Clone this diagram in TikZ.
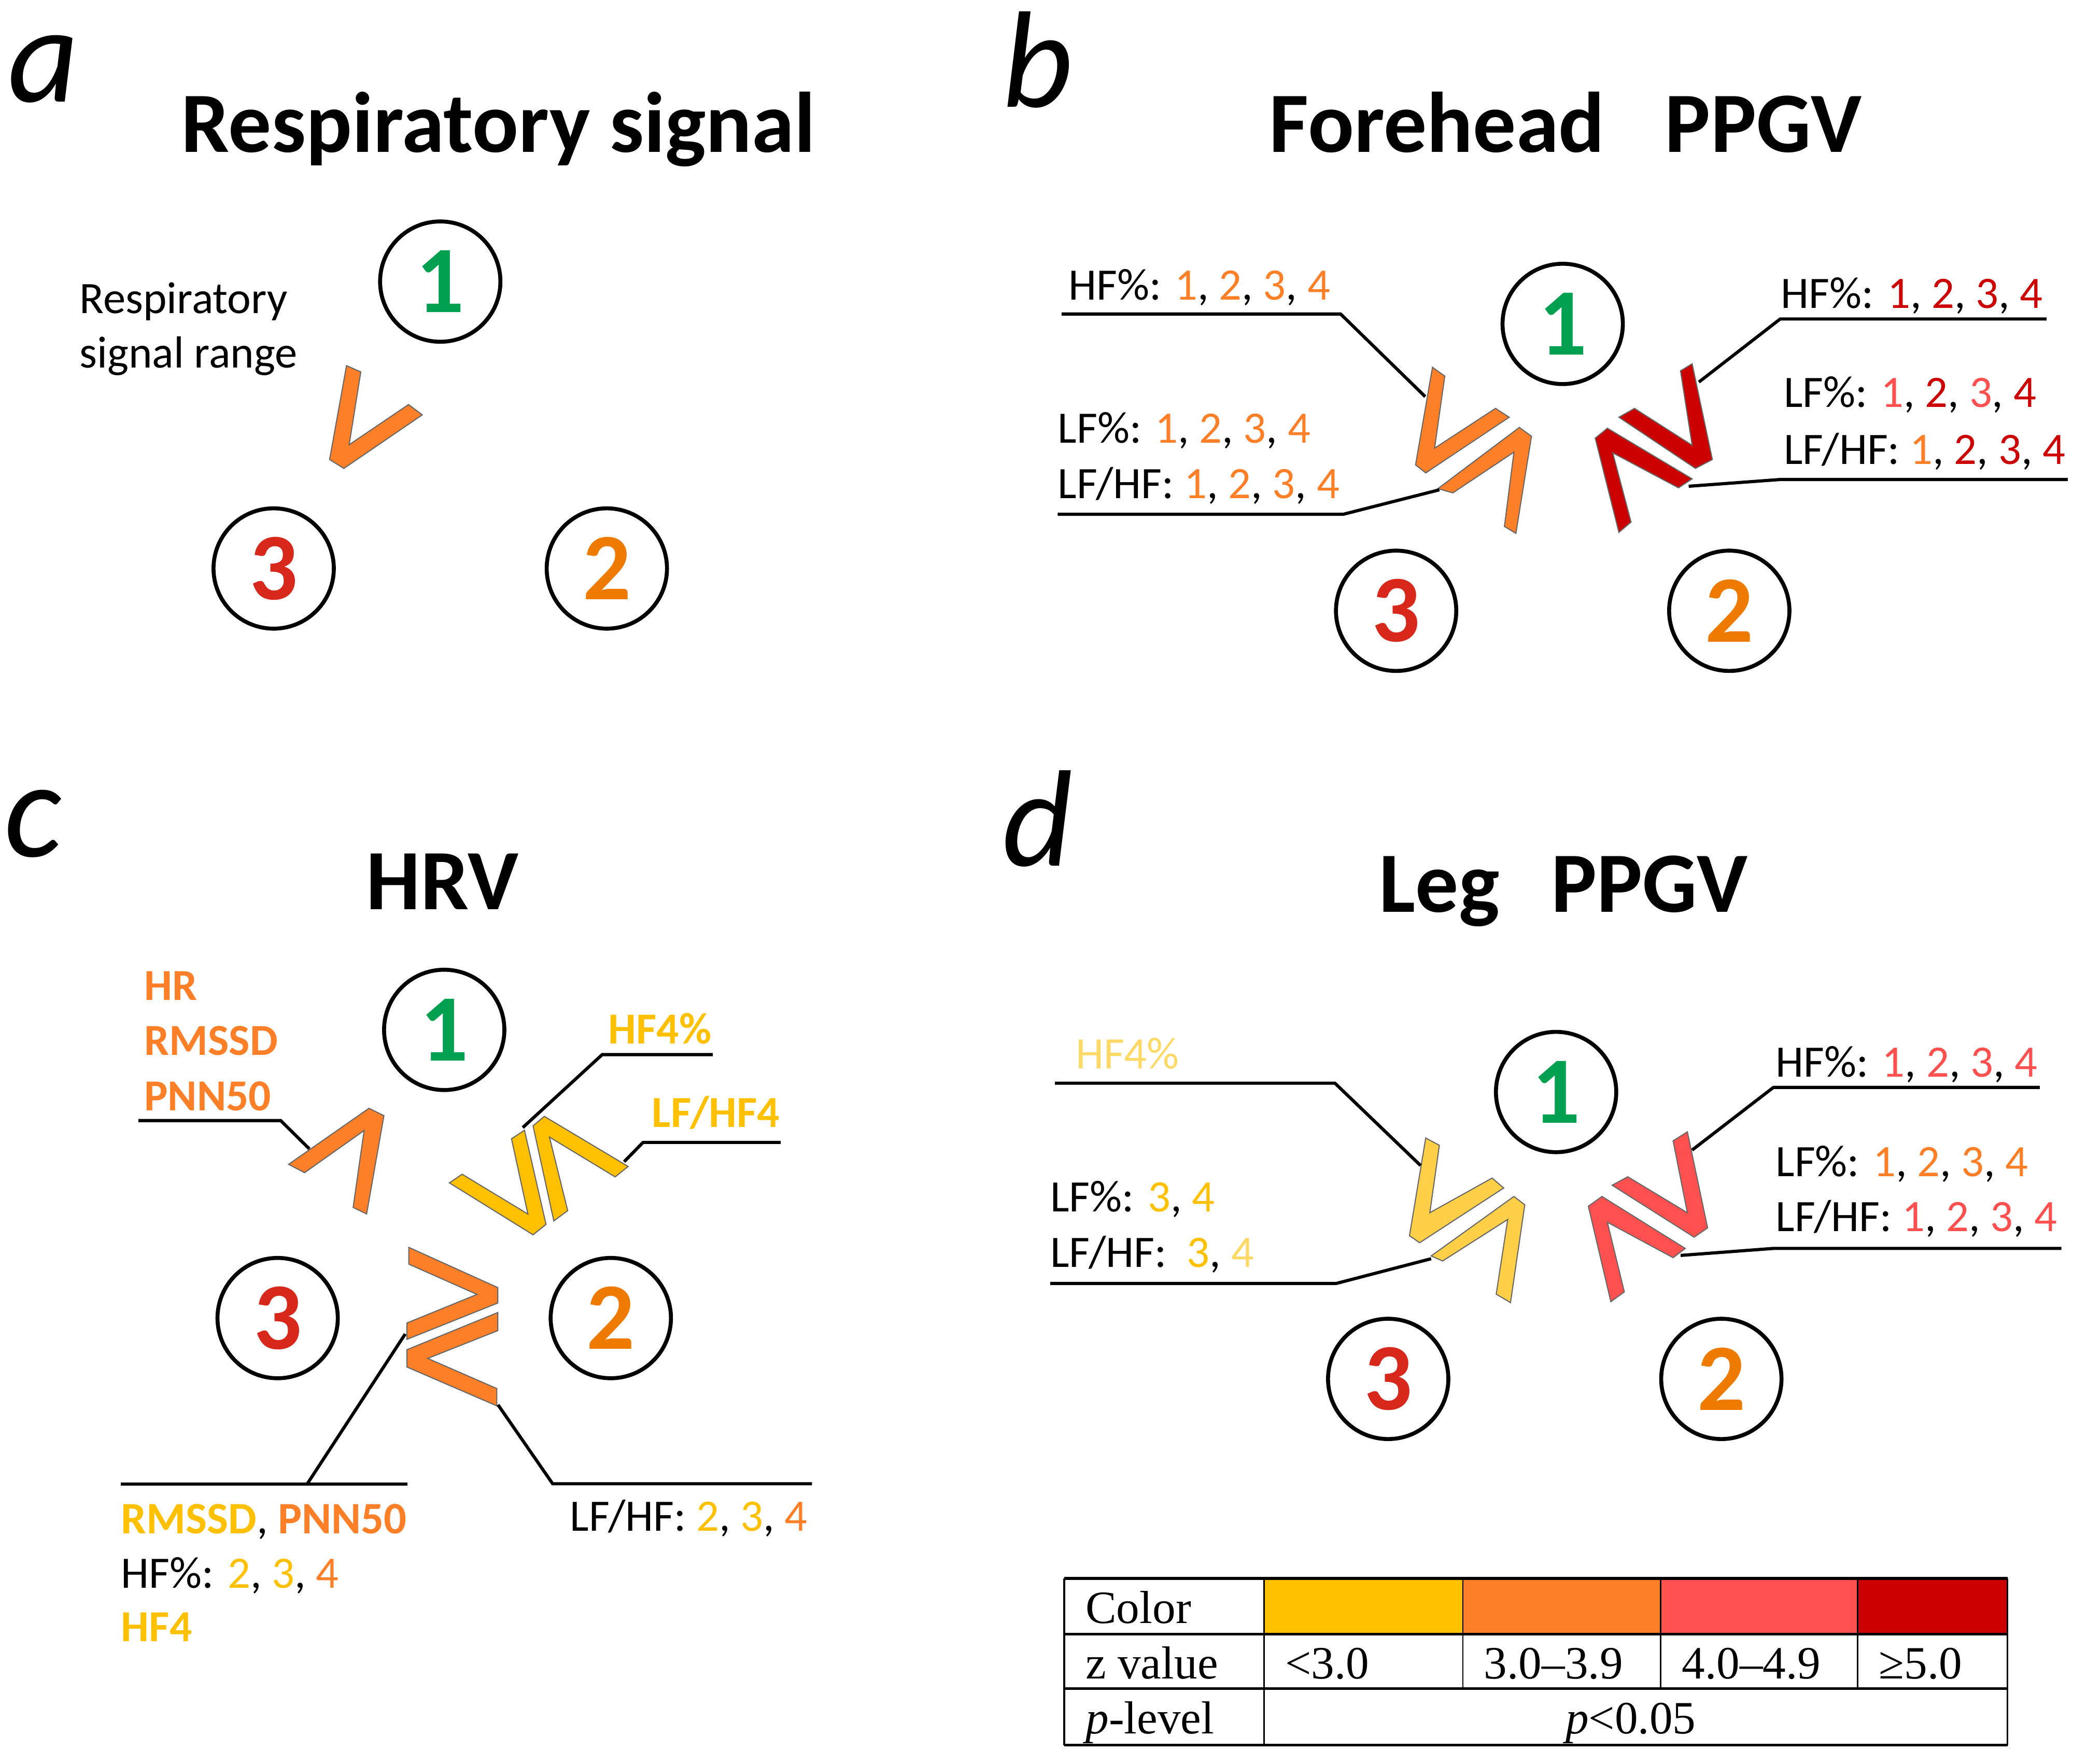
\documentclass[tikz,border=0pt]{standalone}
\usepackage{fontspec}
\setmainfont{Carlito}
\newfontfamily\tnr{Liberation Serif}
\definecolor{cG}{HTML}{00A050}
\definecolor{cRt}{HTML}{D8281C}
\definecolor{cOt}{HTML}{EE7A00}
\definecolor{cY}{HTML}{FFC000}
\definecolor{cO}{HTML}{FD7F28}
\definecolor{cLR}{HTML}{FF5050}
\definecolor{cDR}{HTML}{CC0000}
\definecolor{cLY}{HTML}{FFD047}
\definecolor{cLYt}{HTML}{FFD966}
\newcommand\tY[1]{\textcolor{cY}{#1}}
\newcommand\tO[1]{\textcolor{cO}{#1}}
\newcommand\tLR[1]{\textcolor{cLR}{#1}}
\newcommand\tDR[1]{\textcolor{cDR}{#1}}
\newcommand\tLY[1]{\textcolor{cLYt}{#1}}
\begin{document}
\begin{tikzpicture}[x=1pt,y=-1pt,
  lab/.style={anchor=base west, inner sep=0pt, font=\fontsize{34}{41}\selectfont},
  blab/.style={anchor=base west, inner sep=0pt, font=\bfseries\fontsize{33.5}{41}\selectfont},
  ttl/.style={anchor=base west, inner sep=0pt, font=\bfseries\fontsize{65}{70}\selectfont},
  pletter/.style={anchor=base west, inner sep=0pt, font=\itshape\fontsize{104}{110}\selectfont},
  circ/.style={circle, draw, line width=3pt, minimum size=91pt, inner sep=0pt, font=\bfseries\fontsize{72}{72}\selectfont},
  chev/.style={draw=black!60, line width=0.8pt, line join=miter},
  lead/.style={line width=2.4pt},
  tab/.style={anchor=base west, inner sep=0pt, font=\tnr\fontsize{35}{40}\selectfont},
]
\useasboundingbox (0,0) rectangle (1568,1334);

% ---------------- panel a ----------------
\node[pletter] (pa) at (6,77) {a};
\node[ttl] (ta) at (137,115) {Respiratory signal};
\node[circ] (a1) at (333,213) {\textcolor{cG}{1}};
\node[circ] (a3) at (207,430) {\textcolor{cRt}{3}};
\node[circ] (a2) at (459,430) {\textcolor{cOt}{2}};
\node[lab] (ra1) at (60,237) {Respiratory};
\node[lab] (ra2) at (60,278) {signal range};
\draw[chev, fill=cO] (262.1,276.6) -- (249.3,347.6) -- (260.1,354.3) -- (319.4,313.8)
  -- (309.0,306.0) -- (264.1,336.4) -- (272.9,281.3) -- cycle;

% ---------------- panel b ----------------
\node[pletter] (pb) at (758,81) {b};
\node[ttl] (tb) at (960,115) {Forehead\hspace{0.7em}PPGV};
\node[circ] (b1) at (1182,245) {\textcolor{cG}{1}};
\node[circ] (b3) at (1056,462) {\textcolor{cRt}{3}};
\node[circ] (b2) at (1308,462) {\textcolor{cOt}{2}};
\draw[chev, fill=cO] (1083.5,277.8) -- (1070.7,351.6) -- (1078.4,357.7) -- (1141.5,315.6)
  -- (1131.2,308.9) -- (1085.1,339.0) -- (1092.8,284.5) -- cycle;
\draw[chev, fill=cO] (1087.6,369.6) -- (1149.2,323.3) -- (1158.4,330.0) -- (1146.6,403.4)
  -- (1137.9,398.2) -- (1145.1,342.0) -- (1098.9,372.8) -- cycle;
\draw[chev, fill=cDR] (1279.9,275.1) -- (1295.2,347.6) -- (1282.4,354.3) -- (1224.5,315.6)
  -- (1236.3,308.9) -- (1279.9,336.8) -- (1271.1,280.5) -- cycle;
\draw[chev, fill=cDR] (1279.9,362.2) -- (1215.8,323.9) -- (1206.6,331.4) -- (1224.5,402.7)
  -- (1233.7,394.9) -- (1219.9,342.6) -- (1269.6,369.0) -- cycle;
\node[lab] (bl1) at (808,227) {HF\%: \tO{1}, \tO{2}, \tO{3}, \tO{4}};
\node[lab] (bl2) at (800,335) {LF\%: \tO{1}, \tO{2}, \tO{3}, \tO{4}};
\node[lab] (bl3) at (800,377) {LF/HF: \tO{1}, \tO{2}, \tO{3}, \tO{4}};
\node[lab] (br1) at (1347,233) {HF\%: \tDR{1}, \tDR{2}, \tDR{3}, \tDR{4}};
\node[lab] (br2) at (1349,308) {LF\%: \tLR{1}, \tDR{2}, \tLR{3}, \tDR{4}};
\node[lab] (br3) at (1349,351) {LF/HF: \tO{1}, \tDR{2}, \tDR{3}, \tDR{4}};
\coordinate (bA0) at (803,237.5); \coordinate (bA1) at (1014,237.5); \coordinate (bA2) at (1078,300);
\coordinate (bB0) at (800,389); \coordinate (bB1) at (1016,389); \coordinate (bB2) at (1088.7,370.5);
\coordinate (bC0) at (1548,241.3); \coordinate (bC1) at (1346.5,241.3); \coordinate (bC2) at (1285,289);
\coordinate (bD0) at (1564,362.7); \coordinate (bD1) at (1346.5,362.7); \coordinate (bD2) at (1277.3,367.8);
\draw[lead] (bA0) -- (bA1) -- (bA2);
\draw[lead] (bB0) -- (bB1) -- (bB2);
\draw[lead] (bC0) -- (bC1) -- (bC2);
\draw[lead] (bD0) -- (bD1) -- (bD2);

% ---------------- panel c ----------------
\node[pletter] (pc) at (3,648) {c};
\node[ttl] (tc) at (277,688) {HRV};
\node[circ] (c1) at (336,779) {\textcolor{cG}{1}};
\node[circ] (c3) at (210,997) {\textcolor{cRt}{3}};
\node[circ] (c2) at (462,997) {\textcolor{cOt}{2}};
\draw[chev, fill=cO] (218.3,880.7) -- (279.1,838.3) -- (290.4,843.9) -- (277.3,918.2)
  -- (267.1,913.3) -- (275.4,855.1) -- (230.4,887.0) -- cycle;
\draw[chev, fill=cY] (339.9,894.7) -- (403.2,934.0) -- (413.0,926.1) -- (396.7,854.9)
  -- (386.9,861.4) -- (399.3,918.3) -- (349.6,888.2) -- cycle;
\draw[chev, fill=cY] (418.9,923.5) -- (403.2,851.6) -- (411.7,844.4) -- (475.1,882.3)
  -- (465.3,890.2) -- (415.6,860.1) -- (429.4,915.7) -- cycle;
\draw[chev, fill=cO] (309.2,943.5) -- (376.5,973.9) -- (376.5,985.6) -- (307.8,1013.1)
  -- (307.8,1000.7) -- (360.8,979.1) -- (309.2,956.2) -- cycle;
\draw[chev, fill=cO] (376.5,992.8) -- (307.8,1020.9) -- (307.8,1034.0) -- (375.8,1063.4)
  -- (375.8,1050.3) -- (323.5,1027.5) -- (376.5,1006.5) -- cycle;
\node[blab, text=cO] (cl1) at (109,756.5) {HR};
\node[blab, text=cO] (cl2) at (109,798) {RMSSD};
\node[blab, text=cO] (cl3) at (109,840) {PNN50};
\node[blab, text=cY] (cr1) at (460,789.5) {HF4\%};
\node[blab, text=cY] (cr2) at (493,852.5) {LF/HF4};
\node[lab] (cb1) at (91.5,1160) {\textbf{\tY{RMSSD}}, \textbf{\tO{PNN50}}};
\node[lab] (cb2) at (91.5,1201) {HF\%: \tY{2}, \tY{3}, \tO{4}};
\node[blab, text=cY] (cb3) at (91.5,1241.6) {HF4};
\node[lab] (cb4) at (431,1158) {LF/HF: \tY{2}, \tY{3}, \tO{4}};
\coordinate (cA0) at (104.7,847.6); \coordinate (cA1) at (212.3,847.6); \coordinate (cA2) at (234,869);
\coordinate (cB0) at (539.2,797.7); \coordinate (cB1) at (455.5,797.7); \coordinate (cB2) at (395.4,852.9);
\coordinate (cC0) at (590.5,864.1); \coordinate (cC1) at (486.4,864.1); \coordinate (cC2) at (472.1,878.7);
\coordinate (cD0) at (91.5,1122.7); \coordinate (cD1) at (308,1122.7); \coordinate (cD2) at (232.2,1122.7); \coordinate (cD3) at (306.5,1009);
\coordinate (cE0) at (376.7,1062.6); \coordinate (cE1) at (418,1122.3); \coordinate (cE2) at (614.2,1122.3);
\draw[lead] (cA0) -- (cA1) -- (cA2);
\draw[lead] (cB0) -- (cB1) -- (cB2);
\draw[lead] (cC0) -- (cC1) -- (cC2);
\draw[lead] (cD0) -- (cD1);
\draw[lead] (cD2) -- (cD3);
\draw[lead] (cE0) -- (cE1) -- (cE2);

% ---------------- panel d ----------------
\node[pletter] (pd) at (758,655) {d};
\node[ttl] (td) at (1043,690) {Leg\hspace{0.6em}PPGV};
\node[circ] (d1) at (1177,826) {\textcolor{cG}{1}};
\node[circ] (d3) at (1050,1043) {\textcolor{cRt}{3}};
\node[circ] (d2) at (1302,1043) {\textcolor{cOt}{2}};
\draw[chev, fill=cLY] (1078.4,860.8) -- (1066.1,934.7) -- (1073.8,940.0) -- (1137.4,898.6)
  -- (1128.6,891.1) -- (1081.5,917.3) -- (1088.7,866.3) -- cycle;
\draw[chev, fill=cLY] (1082.5,950.0) -- (1145.1,905.0) -- (1153.3,911.3) -- (1142.5,985.3)
  -- (1131.7,978.9) -- (1140.4,922.4) -- (1091.2,953.8) -- cycle;
\draw[chev, fill=cLR] (1276.3,856.1) -- (1291.6,928.8) -- (1281.4,935.8) -- (1219.4,896.5)
  -- (1231.2,890.1) -- (1276.3,917.3) -- (1265.5,862.9) -- cycle;
\draw[chev, fill=cLR] (1274.7,944.3) -- (1211.7,905.0) -- (1201.4,912.4) -- (1218.4,984.6)
  -- (1228.6,977.2) -- (1215.8,924.5) -- (1265.5,951.3) -- cycle;
\node[lab, text=cLYt] (dl1) at (813.4,808.3) {HF4\%};
\node[lab] (dl2) at (794.4,916.6) {LF\%: \tY{3}, \tY{4}};
\node[lab] (dl3) at (794.4,958.5) {LF/HF:\ \ \tY{3}, \tLY{4}};
\node[lab] (dr1) at (1343,814.6) {HF\%: \tLR{1}, \tLR{2}, \tLR{3}, \tLR{4}};
\node[lab] (dr2) at (1343,890) {LF\%: \tO{1}, \tO{2}, \tO{3}, \tO{4}};
\node[lab] (dr3) at (1343,931.5) {LF/HF: \tLR{1}, \tLR{2}, \tLR{3}, \tLR{4}};
\coordinate (dA0) at (798,819.3); \coordinate (dA1) at (1009.7,819.3); \coordinate (dA2) at (1074.5,881.6);
\coordinate (dB0) at (794.4,970.8); \coordinate (dB1) at (1010.7,970.8); \coordinate (dB2) at (1082.5,952.1);
\coordinate (dC0) at (1542.8,822.5); \coordinate (dC1) at (1341.4,822.5); \coordinate (dC2) at (1279.9,869.9);
\coordinate (dD0) at (1559.2,944.3); \coordinate (dD1) at (1341.4,944.3); \coordinate (dD2) at (1271.2,949.6);
\draw[lead] (dA0) -- (dA1) -- (dA2);
\draw[lead] (dB0) -- (dB1) -- (dB2);
\draw[lead] (dC0) -- (dC1) -- (dC2);
\draw[lead] (dD0) -- (dD1) -- (dD2);

% ---------------- table ----------------
\fill[cY]  (956,1194) rectangle (1106.4,1236);
\fill[cO]  (1106.4,1194) rectangle (1256,1236);
\fill[cLR] (1256,1194) rectangle (1405,1236);
\fill[cDR] (1405,1194) rectangle (1518.5,1236);
\foreach \yy in {1194,1236,1277.3,1320} \draw[line width=2.2pt] (805,\yy) -- (1518.5,\yy);
\foreach \xx in {805,956,1518.5} \draw[line width=1.3pt] (\xx,1194) -- (\xx,1320);
\foreach \xx in {1106.4,1256,1405} \draw[line width=1pt] (\xx,1194) -- (\xx,1277.3);
\node[tab] (t1) at (821,1228) {Color};
\node[tab] (t2) at (821,1269.8) {z value};
\node[tab] (t3) at (821,1311.5) {\textit{p}-level};
\node[tab] (t4) at (972,1269.8) {<3.0};
\node[tab] (t5) at (1122.3,1269.8) {3.0–3.9};
\node[tab] (t6) at (1272,1269.8) {4.0–4.9};
\node[tab] (t7) at (1421,1269.8) {≥5.0};
\node[tab] (t8) at (1184,1311.5) {\textit{p}<0.05};
\end{tikzpicture}
\end{document}
